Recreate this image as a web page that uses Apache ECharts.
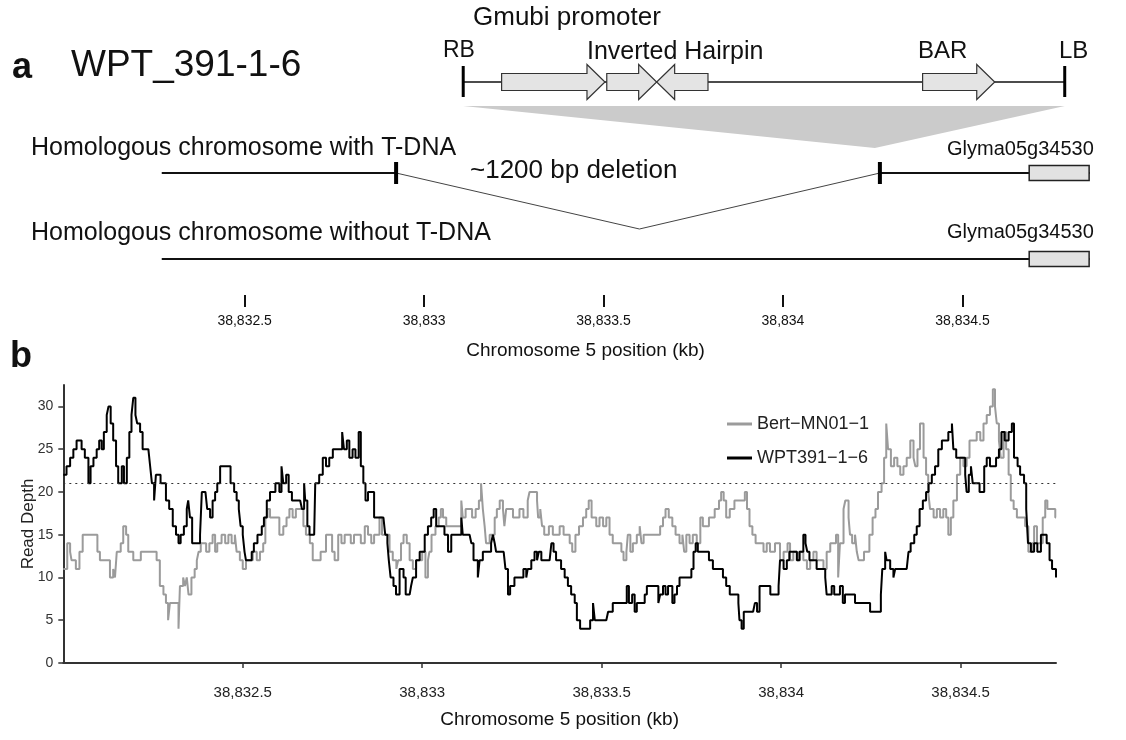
<!DOCTYPE html>
<html>
<head>
<meta charset="utf-8">
<script src="https://cdn.jsdelivr.net/npm/echarts@6/dist/echarts.min.js"></script>
<style>
html,body{margin:0;padding:0;background:#fff;}
#chart{width:1126px;height:740px;}
</style>
</head>
<body>
<div id="chart"></div>
<script>
// ---------------- DATA ----------------
const START_KB = 38832;               // left end of both panels (kb)
const tickValues = [38832.5, 38833, 38833.5, 38834, 38834.5];
const depthTicks = [0, 5, 10, 15, 20, 25, 30];
const seriesNames = ['Bert\u2212MN01\u22121', 'WPT391\u22121\u22126'];
const thresholdDepth = 21;

// panel b: read depth (positions as bp offset from START_KB)
const wptPos = [0,9,19,28,37,51,60,70,76,84,93,100,107,113,121,126,132,139,147,153,163,169,177,184,190,195,201,206,214,221,237,242,247,253,258,271,286,295,305,314,321,327,336,344,348,353,359,372,381,386,396,401,409,416,423,429,437,460,466,476,483,489,494,500,505,509,518,525,531,541,553,559,567,576,591,602,608,613,621,628,637,660,665,671,674,680,686,699,702,713,723,732,741,751,771,777,782,790,797,806,814,823,829,836,842,849,860,866,892,897,903,907,912,920,927,937,948,954,965,969,974,983,993,1007,1016,1025,1032,1039,1048,1062,1072,1081,1097,1109,1113,1132,1137,1143,1155,1160,1169,1192,1197,1202,1206,1227,1232,1239,1245,1257,1276,1282,1290,1294,1304,1313,1320,1325,1332,1355,1360,1366,1373,1387,1397,1406,1415,1425,1431,1440,1462,1468,1476,1481,1513,1518,1531,1564,1570,1576,1585,1592,1598,1620,1626,1652,1658,1663,1671,1678,1685,1697,1703,1710,1717,1740,1750,1756,1762,1768,1792,1799,1810,1829,1838,1847,1857,1875,1881,1884,1890,1896,1922,1927,1933,1940,1963,1970,1993,1997,2007,2016,2023,2034,2044,2051,2062,2068,2073,2079,2099,2123,2127,2141,2148,2164,2172,2178,2192,2206,2239,2248,2271,2278,2282,2290,2294,2304,2313,2318,2350,2355,2361,2371,2378,2386,2395,2404,2411,2420,2429,2438,2448,2466,2476,2480,2488,2513,2517,2523,2529,2534,2553,2566,2573,2582,2599,2607,2614,2623,2634,2643,2649,2659,2666,2677,2683,2688,2696,2705,2714,2724,2740,2748,2755,2766];
const wptDepth = [22,23,24,25,26,25,24,21,23,24,25,26,25,27,29,30,28,26,23,21,23,21,24,27,29,31,29,28,27,25,25,23,21,19,22,21,19,18,16,15,14,15,16,18,19,17,14,14,15,20,20,18,17,19,20,21,23,23,21,20,19,18,16,15,13,12,12,13,14,15,16,17,19,20,21,20,23,21,22,20,19,19,18,21,19,16,15,15,21,22,24,23,24,25,25,27,25,26,24,25,24,27,23,21,19,20,20,17,17,15,14,12,10,9,8,11,10,8,8,9,10,12,13,15,16,17,18,16,16,15,13,15,15,17,15,15,14,12,10,12,13,14,15,14,13,13,11,8,9,10,10,11,10,11,12,13,12,13,12,12,14,13,12,11,10,9,8,7,5,4,4,5,7,5,5,6,7,7,9,7,8,6,7,8,9,9,7,8,9,8,9,7,8,9,10,10,11,13,14,13,13,12,11,11,10,9,8,8,7,5,4,6,6,7,6,9,9,8,9,12,11,12,13,13,12,13,15,14,13,12,11,10,8,9,8,9,7,8,8,7,7,6,6,8,11,13,12,11,10,11,11,13,14,15,16,18,19,20,21,22,23,25,26,27,28,25,24,22,20,22,23,21,20,23,24,23,24,25,27,26,27,28,24,23,22,21,18,14,13,14,13,15,14,12,11,10];

const bertPos = [0,11,19,23,35,45,54,95,102,130,139,144,149,160,167,175,181,195,216,260,269,279,286,292,297,321,325,334,339,344,349,357,366,372,377,383,398,407,416,423,429,441,451,460,469,478,483,492,500,509,528,539,548,557,563,569,576,602,613,622,630,639,648,669,676,687,695,717,732,749,756,766,775,784,801,810,829,840,849,858,866,881,888,909,918,928,933,941,948,957,965,974,983,1000,1009,1016,1020,1026,1037,1046,1052,1058,1067,1109,1113,1121,1139,1149,1158,1164,1169,1174,1178,1188,1202,1208,1216,1225,1229,1234,1253,1271,1282,1294,1299,1320,1323,1329,1334,1340,1353,1364,1383,1394,1411,1418,1427,1437,1448,1457,1464,1472,1485,1494,1504,1513,1522,1531,1555,1561,1569,1573,1580,1587,1598,1606,1611,1617,1663,1671,1678,1687,1697,1706,1717,1725,1730,1736,1745,1754,1765,1775,1782,1799,1815,1827,1833,1840,1847,1857,1870,1899,1905,1912,1920,1929,1941,1951,1960,1969,1983,1997,2007,2018,2025,2034,2044,2053,2062,2072,2081,2090,2099,2118,2127,2137,2153,2159,2164,2174,2179,2188,2192,2198,2206,2211,2216,2231,2246,2255,2263,2270,2280,2287,2293,2298,2306,2315,2324,2332,2341,2350,2360,2369,2374,2380,2387,2397,2404,2410,2415,2425,2434,2443,2452,2460,2466,2473,2480,2490,2499,2508,2517,2525,2545,2555,2564,2573,2582,2590,2596,2601,2607,2612,2620,2627,2634,2640,2648,2657,2680,2689,2699,2705,2713,2729,2736,2742,2764,2766];
const bertDepth = [11,14,13,12,11,13,15,13,12,10,11,10,13,14,16,15,13,12,13,12,9,8,7,5,7,4,9,10,9,10,8,10,11,12,13,14,13,14,15,13,14,15,14,15,14,15,13,12,11,12,13,12,13,14,17,18,17,15,16,17,18,17,18,16,15,14,12,13,15,13,12,15,14,15,14,15,14,16,15,14,15,17,15,13,12,11,12,14,15,14,12,11,12,13,10,12,13,15,16,17,18,17,16,19,17,18,17,18,19,21,18,16,14,15,17,18,19,18,16,18,17,18,17,19,20,19,17,18,16,15,16,15,16,15,14,13,15,16,17,18,19,17,16,17,16,17,15,14,13,12,13,15,13,14,15,16,14,15,16,17,18,17,16,15,14,15,13,15,14,15,14,17,16,17,18,19,20,19,17,18,19,20,18,16,15,14,14,13,14,13,14,12,13,14,12,13,12,13,12,11,12,13,12,11,13,14,15,10,14,18,19,17,15,14,15,13,12,13,15,17,18,20,21,24,28,25,23,24,23,22,23,24,26,24,23,25,28,24,22,20,18,17,18,17,18,17,15,17,19,22,24,23,24,26,27,26,28,29,30,32,30,28,26,24,27,25,22,19,18,17,16,13,14,16,14,17,19,18,17,17];

// panel a: construct map (kb)
const tdnaBorderPos = [38833.109, 38834.785];          // RB, LB
const featureNames  = ['Gmubi promoter', 'Inverted', 'Hairpin', 'BAR'];
const featureStart  = [38833.216, 38833.509, 38833.791, 38834.389];
const featureEnd    = [38833.504, 38833.648, 38833.648, 38834.590];
const chromExtent   = [38832.269, 38834.855];
const junctionPos   = [38832.922, 38834.270];            // insertion borders
const deletionMid   = 38833.600;
const insertApex    = 38834.256;
const geneName      = 'Glyma05g34530';
const geneExtent    = [38834.686, 38834.853];

// ---------------- LAYOUT / STYLE ----------------
const FONT = '"Liberation Sans", Arial, Helvetica, sans-serif';
const ROW_TDNA = 82, ROW_WITH = 173, ROW_WITHOUT = 259;
const TRI_TOP = 106, TRI_APEX = 148, DEL_BOTTOM = 229;

function fmtKb(v) {
  const s = String(v);
  const parts = s.split('.');
  const i = parts[0].replace(/\B(?=(\d{3})+(?!\d))/g, ',');
  return parts.length > 1 ? i + '.' + parts[1] : i;
}
function toSeries(pos, dep) {
  return pos.map((p, i) => [START_KB + p / 1000, dep[i]]);
}

function renderMap(params, api) {
  const c = (x, y) => api.coord([x, y]);
  const ch = [];
  const thin = { stroke: '#111', lineWidth: 2 };
  ch.push({ type: 'polygon', shape: { points: [c(tdnaBorderPos[0], TRI_TOP), c(tdnaBorderPos[1], TRI_TOP), c(insertApex, TRI_APEX)] },
    style: { fill: '#cbcbcb' } });
  let a = c(tdnaBorderPos[0], ROW_TDNA), b = c(tdnaBorderPos[1], ROW_TDNA);
  ch.push({ type: 'line', shape: { x1: a[0], y1: a[1], x2: b[0], y2: b[1] }, style: { stroke: '#111', lineWidth: 1.6 } });
  for (let i = 0; i < featureStart.length; i++) {
    const s = c(featureStart[i], ROW_TDNA), e = c(featureEnd[i], ROW_TDNA);
    const dir = e[0] > s[0] ? 1 : -1;
    const hb = e[0] - dir * 18, y = s[1];
    ch.push({ type: 'polygon', shape: { points: [[s[0], y - 8.5], [hb, y - 8.5], [hb, y - 17.5], [e[0], y], [hb, y + 17.5], [hb, y + 8.5], [s[0], y + 8.5]] },
      style: { fill: '#e4e4e4', stroke: '#333', lineWidth: 1.2 } });
  }
  tdnaBorderPos.forEach(p => {
    const q = c(p, ROW_TDNA);
    ch.push({ type: 'rect', shape: { x: q[0] - 1.5, y: q[1] - 16, width: 3, height: 31 }, style: { fill: '#000' } });
  });
  a = c(chromExtent[0], ROW_WITH); b = c(junctionPos[0], ROW_WITH);
  ch.push({ type: 'line', shape: { x1: a[0], y1: a[1], x2: b[0], y2: b[1] }, style: thin });
  a = c(junctionPos[1], ROW_WITH); b = c(chromExtent[1], ROW_WITH);
  ch.push({ type: 'line', shape: { x1: a[0], y1: a[1], x2: b[0], y2: b[1] }, style: thin });
  ch.push({ type: 'polyline', shape: { points: [c(junctionPos[0], ROW_WITH), c(deletionMid, DEL_BOTTOM), c(junctionPos[1], ROW_WITH)] },
    style: { stroke: '#444', lineWidth: 1, fill: null } });
  junctionPos.forEach(p => {
    const q = c(p, ROW_WITH);
    ch.push({ type: 'rect', shape: { x: q[0] - 2, y: q[1] - 11, width: 4, height: 22 }, style: { fill: '#000' } });
  });
  a = c(chromExtent[0], ROW_WITHOUT); b = c(chromExtent[1], ROW_WITHOUT);
  ch.push({ type: 'line', shape: { x1: a[0], y1: a[1], x2: b[0], y2: b[1] }, style: thin });
  [ROW_WITH, ROW_WITHOUT].forEach(r => {
    const g0 = c(geneExtent[0], r), g1 = c(geneExtent[1], r);
    ch.push({ type: 'rect', shape: { x: g0[0], y: g0[1] - 7.5, width: g1[0] - g0[0], height: 15 },
      style: { fill: '#e2e2e2', stroke: '#222', lineWidth: 1.5 } });
  });
  return { type: 'group', children: ch };
}

function label(text, x, y, size, bold, align) {
  return { type: 'text', x: x, y: y, style: { text: text, fontSize: size, fontWeight: bold ? 'bold' : 'normal', fontFamily: FONT,
    fill: '#111', align: align || 'left', verticalAlign: 'middle' } };
}

const chart = echarts.init(document.getElementById('chart'), null, { renderer: 'canvas' });
const option = {
  animation: false,
  backgroundColor: '#fff',
  textStyle: { fontFamily: FONT },
  grid: [
    { left: 63.3, top: 385, width: 992.7, height: 278 },
    { left: 65.2, top: 0, width: 1040.8, height: 295 }
  ],
  xAxis: [
    { type: 'value', gridIndex: 0, min: START_KB, max: 38834.766, interval: 0.5,
      axisLine: { show: true, onZero: false, lineStyle: { color: '#333', width: 2 } },
      axisTick: { show: true, length: 5, lineStyle: { color: '#333', width: 1.5 }, customValues: tickValues },
      axisLabel: { customValues: tickValues, formatter: fmtKb, fontSize: 15, color: '#222', margin: 22, fontFamily: FONT },
      splitLine: { show: false },
      name: 'Chromosome 5 position (kb)', nameLocation: 'middle', nameGap: 47, nameMoveOverlap: false,
      nameTextStyle: { fontSize: 19, color: '#111', fontFamily: FONT } },
    { type: 'value', gridIndex: 1, min: START_KB, max: 38834.9, interval: 0.5, position: 'bottom',
      axisLine: { show: false, onZero: false },
      axisTick: { show: true, length: 12, lineStyle: { color: '#111', width: 2 }, customValues: tickValues },
      axisLabel: { customValues: tickValues, formatter: fmtKb, fontSize: 14, color: '#111', margin: 19, fontFamily: FONT },
      splitLine: { show: false },
      name: 'Chromosome 5 position (kb)', nameLocation: 'middle', nameGap: 46, nameMoveOverlap: false,
      nameTextStyle: { fontSize: 19, color: '#111', fontFamily: FONT } }
  ],
  yAxis: [
    { type: 'value', gridIndex: 0, min: 0, max: 32.5, interval: 5,
      axisLine: { show: true, onZero: false, lineStyle: { color: '#333', width: 2 } },
      axisTick: { show: true, length: 5, lineStyle: { color: '#333', width: 1.5 }, customValues: depthTicks },
      axisLabel: { customValues: depthTicks, fontSize: 14, color: '#333', margin: 10, fontFamily: FONT },
      splitLine: { show: false },
      name: 'Read Depth', nameLocation: 'middle', nameGap: 26, nameRotate: 90, nameMoveOverlap: false,
      nameTextStyle: { fontSize: 17, color: '#222', fontFamily: FONT } },
    { type: 'value', gridIndex: 1, min: 0, max: 295, inverse: true, show: false }
  ],
  legend: {
    data: seriesNames, orient: 'vertical', left: 722, top: 410, itemWidth: 25, itemHeight: 3, itemGap: 16,
    icon: 'rect',
    textStyle: { fontSize: 18, color: '#222', fontFamily: FONT }
  },
  series: [
    { name: seriesNames[0], type: 'line', xAxisIndex: 0, yAxisIndex: 0, step: 'end', symbol: 'none',
      data: toSeries(bertPos, bertDepth), lineStyle: { color: '#9b9b9b', width: 2 }, itemStyle: { color: '#9b9b9b' }, z: 2 },
    { name: seriesNames[1], type: 'line', xAxisIndex: 0, yAxisIndex: 0, step: 'end', symbol: 'none',
      data: toSeries(wptPos, wptDepth), lineStyle: { color: '#000', width: 2 }, itemStyle: { color: '#000' }, z: 3,
      markLine: { silent: true, symbol: 'none', label: { show: false },
        lineStyle: { color: '#333', type: [2, 4], width: 1.2 }, data: [{ yAxis: thresholdDepth }] } },
    { type: 'custom', xAxisIndex: 1, yAxisIndex: 1, data: [[START_KB, 0]], renderItem: renderMap, silent: true, z: 1 }
  ],
  graphic: [
    label('a', 12, 68, 36, true),
    label('WPT_391-1-6', 71, 66, 37, false),
    label('Gmubi promoter', 473, 18, 26, false),
    label('RB', 443, 51, 23, false),
    label('Inverted Hairpin', 587, 52, 25, false),
    label('BAR', 918, 51, 24, false),
    label('LB', 1059, 51, 24, false),
    label('Homologous chromosome with T-DNA', 31, 148, 25, false),
    label('~1200 bp deletion', 470, 171, 26, false),
    label(geneName, 947, 149, 20, false),
    label('Homologous chromosome without T-DNA', 31, 233, 25, false),
    label(geneName, 947, 232, 20, false),
    label('b', 10, 357, 36, true)
  ]
};
chart.setOption(option);
</script>
</body>
</html>
